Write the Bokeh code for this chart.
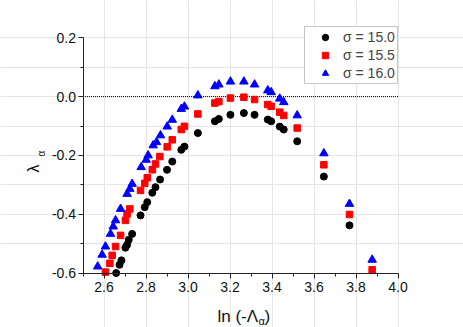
import math
from bokeh.plotting import figure
from bokeh.models import (Label, Legend, LegendItem, FixedTicker, LinearAxis,
                          NumeralTickFormatter, Range1d)
from bokeh.embed import file_html
from bokeh.resources import INLINE

# sigma = 15.0 (black circles)
x_s150 = [2.658, 2.674, 2.683, 2.702, 2.710, 2.718, 2.734, 2.774, 2.794, 2.806,
          2.830, 2.845, 2.867, 2.900, 2.925, 2.968, 2.983, 3.047, 3.128, 3.147,
          3.202, 3.266, 3.317, 3.380, 3.396, 3.437, 3.456, 3.520, 3.647, 3.769]
y_s150 = [-0.600, -0.572, -0.557, -0.514, -0.504, -0.487, -0.467, -0.404, -0.376, -0.359,
          -0.327, -0.308, -0.282, -0.249, -0.221, -0.181, -0.170, -0.124, -0.084, -0.076,
          -0.062, -0.056, -0.062, -0.078, -0.084, -0.102, -0.112, -0.152, -0.272, -0.438]

# sigma = 15.5 (red squares)
x_s155 = [2.607, 2.628, 2.639, 2.655, 2.679, 2.702, 2.710, 2.723, 2.774, 2.794,
          2.806, 2.830, 2.845, 2.866, 2.901, 2.925, 2.968, 2.983, 3.047, 3.128,
          3.147, 3.202, 3.266, 3.317, 3.380, 3.396, 3.437, 3.456, 3.520, 3.647,
          3.769, 3.877]
y_s155 = [-0.597, -0.567, -0.540, -0.510, -0.472, -0.421, -0.399, -0.382, -0.319, -0.295,
          -0.276, -0.249, -0.229, -0.204, -0.171, -0.147, -0.112, -0.101, -0.059, -0.022,
          -0.017, -0.005, -0.002, -0.010, -0.027, -0.033, -0.053, -0.064, -0.107, -0.232,
          -0.401, -0.589]

# sigma = 16.0 (blue triangles)
x_s160 = [2.570, 2.591, 2.607, 2.631, 2.644, 2.655, 2.679, 2.710, 2.723, 2.734,
          2.777, 2.801, 2.810, 2.834, 2.850, 2.869, 2.901, 2.925, 2.968, 2.983,
          3.047, 3.128, 3.147, 3.202, 3.266, 3.317, 3.380, 3.396, 3.437, 3.456,
          3.520, 3.647, 3.769, 3.877]
y_s160 = [-0.578, -0.538, -0.510, -0.467, -0.442, -0.421, -0.382, -0.331, -0.314, -0.297,
          -0.240, -0.215, -0.200, -0.166, -0.155, -0.132, -0.102, -0.079, -0.042, -0.034,
          0.004, 0.035, 0.041, 0.051, 0.051, 0.041, 0.021, 0.015, -0.007, -0.019,
          -0.064, -0.193, -0.365, -0.555]

series_labels = ["σ = 15.0", "σ = 15.5", "σ = 16.0"]
x_limits = (2.5, 4.0)
y_limits = (-0.6, 0.2)
x_ticks = [2.6, 2.8, 3.0, 3.2, 3.4, 3.6, 3.8, 4.0]
x_minor = [2.5, 2.7, 2.9, 3.1, 3.3, 3.5, 3.7, 3.9]
y_ticks = [-0.6, -0.4, -0.2, 0.0, 0.2]
y_minor = [-0.5, -0.3, -0.1, 0.1]
zero_level = 0.0

FONT = "Liberation Sans"
W, H = 463, 327
# frame covers the whole canvas; the axes sit at fixed data locations
PX_PER_X = 210.0
PX_PER_Y = 294.0
AX_LEFT_PX, AX_TOP_PX = 82.5, 37.3
x0 = x_limits[0] - AX_LEFT_PX / PX_PER_X
x1 = x0 + W / PX_PER_X
y1 = y_limits[1] + AX_TOP_PX / PX_PER_Y
y0 = y1 - H / PX_PER_Y

p = figure(width=W, height=H, output_backend="svg", toolbar_location=None,
           x_range=Range1d(x0, x1), y_range=Range1d(y0, y1),
           x_axis_location=None, y_axis_location=None,
           min_border_left=0, min_border_right=0, min_border_top=0,
           min_border_bottom=0)
p.outline_line_color = None
p.background_fill_color = "white"
p.border_fill_color = "white"

xaxis = LinearAxis(fixed_location=y_limits[0], bounds=x_limits)
yaxis = LinearAxis(fixed_location=x_limits[0], bounds=y_limits)
p.add_layout(xaxis, "below")
p.add_layout(yaxis, "left")

for ax, ticks, minor in ((xaxis, x_ticks, x_minor), (yaxis, y_ticks, y_minor)):
    ax.ticker = FixedTicker(ticks=ticks, minor_ticks=minor)
    ax.formatter = NumeralTickFormatter(format="0.0")
    ax.major_tick_out = 5
    ax.major_tick_in = 0
    ax.minor_tick_out = 3
    ax.minor_tick_in = 0
    ax.axis_line_color = "#222222"
    ax.major_tick_line_color = "#222222"
    ax.minor_tick_line_color = "#222222"
    ax.major_label_text_font = FONT
    ax.major_label_text_font_size = "14px"
    ax.major_label_text_color = "#111111"
xaxis.major_label_standoff = 4
yaxis.major_label_standoff = 2

# dotted zero reference line across the axis span
p.segment(x0=[x_limits[0]], y0=[zero_level], x1=[x_limits[1]], y1=[zero_level],
          line_color="black", line_dash="1 1", line_width=1)

r1 = p.scatter(x_s150, y_s150, marker="circle", size=7, fill_color="black",
               line_color="black")
r2 = p.scatter(x_s155, y_s155, marker="square", size=6.5, fill_color="#ff0000",
               line_color="#ff0000")
r3 = p.scatter(x_s160, y_s160, marker="triangle", size=8.5, fill_color="#0000ff",
               line_color="#0000ff")

legend = Legend(items=[LegendItem(label=series_labels[0], renderers=[r1]),
                       LegendItem(label=series_labels[1], renderers=[r2]),
                       LegendItem(label=series_labels[2], renderers=[r3])],
                location=(304, 243), margin=0, padding=2, spacing=2,
                glyph_width=36, glyph_height=16, label_height=16,
                label_standoff=0, border_line_color="#8c8c8c",
                border_line_width=1, background_fill_color="white",
                background_fill_alpha=1.0,
                label_text_font=FONT, label_text_font_size="14px")
p.add_layout(legend)


def px_x(px):
    return x0 + px / PX_PER_X


def px_y(py):
    return y1 - py / PX_PER_Y


# x axis title: ln (-Λα)
p.add_layout(Label(x=px_x(217), y=px_y(316), text="ln (-Λ", text_font=FONT,
                   text_font_size="17px", text_align="left",
                   text_baseline="alphabetic", text_color="#111111"))
p.add_layout(Label(x=px_x(258), y=px_y(320), text="α", text_font=FONT,
                   text_font_size="11px", text_align="left",
                   text_baseline="alphabetic", text_color="#111111"))
p.add_layout(Label(x=px_x(264), y=px_y(316), text=")", text_font=FONT,
                   text_font_size="17px", text_align="left",
                   text_baseline="alphabetic", text_color="#111111"))

# y axis title: λα (rotated)
p.add_layout(Label(x=px_x(33), y=px_y(168), text="λ", text_font=FONT,
                   text_font_size="16px", text_align="center",
                   text_baseline="middle", angle=math.pi / 2,
                   text_color="#111111"))
p.add_layout(Label(x=px_x(40.5), y=px_y(153), text="α", text_font=FONT,
                   text_font_size="10px", text_align="center",
                   text_baseline="middle", angle=math.pi / 2,
                   text_color="#111111"))

open("out.html", "w").write(file_html(p, INLINE))
